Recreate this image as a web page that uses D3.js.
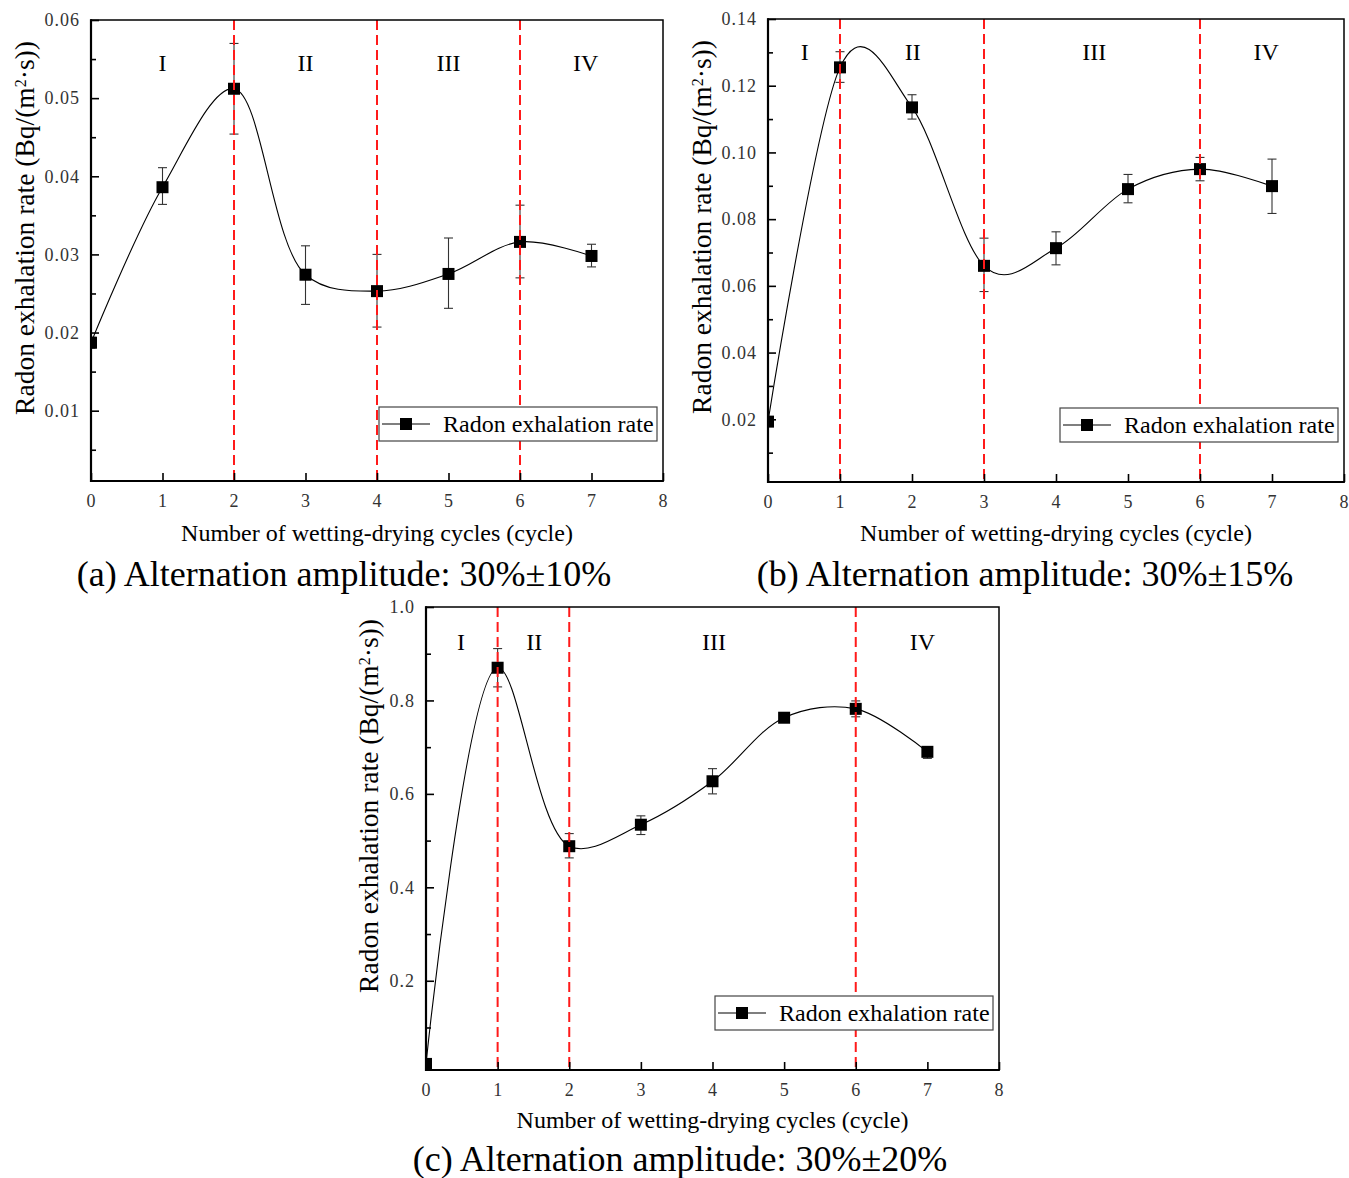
<!DOCTYPE html>
<html><head><meta charset="utf-8">
<script src="https://cdn.jsdelivr.net/npm/d3@7"></script>
<style>body{margin:0;background:#fff}</style>
</head><body>
<svg id="chart" width="1349" height="1178"></svg>
<script>
// ---------------- data ----------------
const cycles = [0, 1, 2, 3, 4, 5, 6, 7];
const xTicks = [0, 1, 2, 3, 4, 5, 6, 7, 8];
const stageLabels = ["I", "II", "III", "IV"];
const legendLabel = "Radon exhalation rate";
const xTitle = "Number of wetting-drying cycles (cycle)";

// (a) 30% ± 10%
const rateA  = [0.0187, 0.0386, 0.0512, 0.0274, 0.0253, 0.0275, 0.0316, 0.0298];
const upperA = [0.0194, 0.0411, 0.0570, 0.0311, 0.0300, 0.0321, 0.0363, 0.0313];
const lowerA = [0.0180, 0.0364, 0.0454, 0.0236, 0.0207, 0.0231, 0.0270, 0.0284];
const stageLinesA = [2, 4, 6];
const stagePosA = [1, 3, 5, 6.92];
const yDomainA = [0.001, 0.06];
const yTicksA = [0.01, 0.02, 0.03, 0.04, 0.05, 0.06];
const yTickLabelsA = ["0.01", "0.02", "0.03", "0.04", "0.05", "0.06"];
const yMinorA = [0.005, 0.015, 0.025, 0.035, 0.045, 0.055];
const subtitleA = "(a) Alternation amplitude: 30%±10%";

// (b) 30% ± 15%
const rateB  = [0.0193, 0.1255, 0.1135, 0.0660, 0.0713, 0.0890, 0.0950, 0.0899];
const upperB = [0.0200, 0.1302, 0.1173, 0.0743, 0.0762, 0.0934, 0.0985, 0.0980];
const lowerB = [0.0186, 0.1210, 0.1100, 0.0583, 0.0663, 0.0849, 0.0915, 0.0817];
const stageLinesB = [1, 3, 6];
const stagePosB = [0.51, 2.01, 4.53, 6.92];
const yDomainB = [0.0012, 0.14];
const yTicksB = [0.02, 0.04, 0.06, 0.08, 0.10, 0.12, 0.14];
const yTickLabelsB = ["0.02", "0.04", "0.06", "0.08", "0.10", "0.12", "0.14"];
const yMinorB = [0.01, 0.03, 0.05, 0.07, 0.09, 0.11, 0.13];
const subtitleB = "(b) Alternation amplitude: 30%±15%";

// (c) 30% ± 20%
const rateC  = [0.022, 0.870, 0.488, 0.534, 0.627, 0.763, 0.782, 0.690];
const upperC = [0.026, 0.911, 0.515, 0.553, 0.654, 0.768, 0.799, 0.697];
const lowerC = [0.018, 0.829, 0.463, 0.513, 0.600, 0.758, 0.765, 0.676];
const stageLinesC = [1, 2, 6];
const stagePosC = [0.49, 1.51, 4.02, 6.93];
const yDomainC = [0.009, 1.0];
const yTicksC = [0.2, 0.4, 0.6, 0.8, 1.0];
const yTickLabelsC = ["0.2", "0.4", "0.6", "0.8", "1.0"];
const yMinorC = [0.1, 0.3, 0.5, 0.7, 0.9];
const subtitleC = "(c) Alternation amplitude: 30%±20%";

// ---------------- layout ----------------
const panels = [
  {id: "a", rate: rateA, upper: upperA, lower: lowerA, stageLines: stageLinesA, stagePos: stagePosA,
   yDomain: yDomainA, yTicks: yTicksA, yTickLabels: yTickLabelsA, yMinor: yMinorA, subtitle: subtitleA,
   curve: d3.curveCatmullRom.alpha(0.5),
   left: 91, right: 663, top: 20, bottom: 481, stageY: 51, yTitleX: 34, yTitleY: 228, subX: 344, subY: 586, xTitleY: 541},
  {id: "b", rate: rateB, upper: upperB, lower: lowerB, stageLines: stageLinesB, stagePos: stagePosB,
   yDomain: yDomainB, yTicks: yTicksB, yTickLabels: yTickLabelsB, yMinor: yMinorB, subtitle: subtitleB,
   curve: d3.curveCatmullRom.alpha(0),
   left: 768, right: 1344, top: 19, bottom: 482, stageY: 41, yTitleX: 711, yTitleY: 227, subX: 1025, subY: 586, xTitleY: 541},
  {id: "c", rate: rateC, upper: upperC, lower: lowerC, stageLines: stageLinesC, stagePos: stagePosC,
   yDomain: yDomainC, yTicks: yTicksC, yTickLabels: yTickLabelsC, yMinor: yMinorC, subtitle: subtitleC,
   curve: d3.curveCatmullRom.alpha(0.5),
   left: 426, right: 999, top: 607, bottom: 1070, stageY: 43, yTitleX: 378, yTitleY: 806, subX: 680, subY: 1171, xTitleY: 1128}
];

const svg = d3.select("#chart");
const serif = "'Liberation Serif', 'Times New Roman', serif";

panels.forEach(p => {
  const g = svg.append("g");
  const x = d3.scaleLinear().domain([0, 8]).range([p.left, p.right]);
  const y = d3.scaleLinear().domain(p.yDomain).range([p.bottom, p.top]);

  const clipId = "clip-" + p.id;
  svg.append("clipPath").attr("id", clipId).append("rect")
    .attr("x", p.left).attr("y", p.top).attr("width", p.right - p.left).attr("height", p.bottom - p.top);

  const plot = g.append("g").attr("clip-path", `url(#${clipId})`);

  // curve
  const line = d3.line().x((d, i) => x(cycles[i])).y(d => y(d)).curve(p.curve);
  plot.append("path").datum(p.rate).attr("d", line)
    .attr("fill", "none").attr("stroke", "#000").attr("stroke-width", 1.1);

  // error bars
  const eb = plot.append("g").attr("stroke", "#333").attr("stroke-width", 1.1);
  cycles.forEach((c, i) => {
    const cx = x(c);
    eb.append("line").attr("x1", cx).attr("x2", cx).attr("y1", y(p.upper[i])).attr("y2", y(p.lower[i]));
    eb.append("line").attr("x1", cx - 4.5).attr("x2", cx + 4.5).attr("y1", y(p.upper[i])).attr("y2", y(p.upper[i]));
    eb.append("line").attr("x1", cx - 4.5).attr("x2", cx + 4.5).attr("y1", y(p.lower[i])).attr("y2", y(p.lower[i]));
  });

  // markers
  const ms = 12;
  plot.selectAll("rect.mk").data(p.rate).enter().append("rect").attr("class", "mk")
    .attr("x", (d, i) => x(cycles[i]) - ms / 2).attr("y", d => y(d) - ms / 2)
    .attr("width", ms).attr("height", ms).attr("fill", "#000");

  // stage divider lines
  g.selectAll("line.stage").data(p.stageLines).enter().append("line").attr("class", "stage")
    .attr("x1", d => x(d)).attr("x2", d => x(d)).attr("y1", p.top).attr("y2", p.bottom)
    .attr("stroke", "#ff1a1a").attr("stroke-width", 2).attr("stroke-dasharray", "10,5");

  // stage labels
  g.selectAll("text.stg").data(stageLabels).enter().append("text").attr("class", "stg")
    .attr("x", (d, i) => x(p.stagePos[i])).attr("y", p.top + p.stageY)
    .attr("text-anchor", "middle").attr("font-family", serif).attr("font-size", 24).attr("fill", "#000")
    .text(d => d);

  // axes
  const xAxis = d3.axisBottom(x).tickValues(xTicks).tickFormat(d3.format("d"))
    .tickSizeInner(-8).tickSizeOuter(0).tickPadding(13);
  const xa = g.append("g").attr("transform", `translate(0,${p.bottom})`).call(xAxis);
  const yAxis = d3.axisLeft(y).tickValues(p.yTicks).tickFormat((d, i) => p.yTickLabels[i])
    .tickSizeInner(-8).tickSizeOuter(0).tickPadding(11);
  const ya = g.append("g").attr("transform", `translate(${p.left},0)`).call(yAxis);
  const yMinorAxis = d3.axisLeft(y).tickValues(p.yMinor).tickFormat("").tickSizeInner(-5).tickSizeOuter(0);
  const ym = g.append("g").attr("transform", `translate(${p.left},0)`).call(yMinorAxis);
  [xa, ya, ym].forEach(a => {
    a.select(".domain").remove();
    a.selectAll(".tick line").attr("stroke", "#000").attr("stroke-width", 1.6);
    a.selectAll(".tick text").attr("font-family", serif).attr("font-size", 18)
      .attr("fill", "#333").attr("letter-spacing", "1px");
  });

  // frame
  g.append("rect").attr("x", p.left).attr("y", p.top).attr("width", p.right - p.left).attr("height", p.bottom - p.top)
    .attr("fill", "none").attr("stroke", "#000").attr("stroke-width", 1.5);
  g.append("line").attr("x1", p.left).attr("x2", p.left).attr("y1", p.top - 0.75).attr("y2", p.bottom + 1)
    .attr("stroke", "#000").attr("stroke-width", 2.2);
  g.append("line").attr("x1", p.left - 1).attr("x2", p.right + 0.75).attr("y1", p.bottom).attr("y2", p.bottom)
    .attr("stroke", "#000").attr("stroke-width", 2.2);

  // legend
  const lw = 278, lh = 34;
  const lx = p.right - 6 - lw, ly = p.bottom - 40 - lh;
  const lg = g.append("g");
  lg.append("rect").attr("x", lx).attr("y", ly).attr("width", lw).attr("height", lh)
    .attr("fill", "#fff").attr("stroke", "#444").attr("stroke-width", 1.2);
  lg.append("line").attr("x1", lx + 3).attr("x2", lx + 51).attr("y1", ly + lh / 2).attr("y2", ly + lh / 2)
    .attr("stroke", "#000").attr("stroke-width", 1.1);
  lg.append("rect").attr("x", lx + 27 - ms / 2).attr("y", ly + lh / 2 - ms / 2).attr("width", ms).attr("height", ms).attr("fill", "#000");
  lg.append("text").attr("x", lx + 64).attr("y", ly + lh / 2 + 8)
    .attr("font-family", serif).attr("font-size", 24).attr("fill", "#000").text(legendLabel);

  // axis titles
  g.append("text").attr("x", (p.left + p.right) / 2).attr("y", p.xTitleY).attr("text-anchor", "middle")
    .attr("font-family", serif).attr("font-size", 24).attr("fill", "#000").text(xTitle);
  const yt = g.append("text").attr("transform", `translate(${p.yTitleX},${p.yTitleY}) rotate(-90)`)
    .attr("text-anchor", "middle").attr("font-family", serif).attr("font-size", 27.5).attr("fill", "#000");
  yt.append("tspan").text("Radon exhalation rate (Bq/(m");
  yt.append("tspan").attr("baseline-shift", "super").attr("font-size", 16).text("2");
  yt.append("tspan").text("·s))");

  // subtitle
  svg.append("text").attr("x", p.subX).attr("y", p.subY).attr("text-anchor", "middle")
    .attr("font-family", serif).attr("font-size", 36).attr("fill", "#000").text(p.subtitle);
});
</script>
</body></html>
